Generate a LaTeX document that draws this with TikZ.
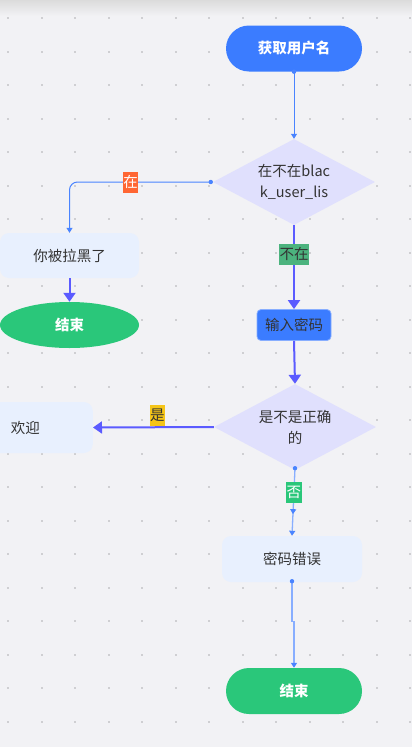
\documentclass[tikz,border=0pt]{standalone}
\usepackage{fontspec}
\setmainfont{Noto Sans CJK SC}
\usetikzlibrary{shapes.geometric,arrows.meta,decorations.markings}
\definecolor{bg}{HTML}{F2F2F5}
\definecolor{dotc}{HTML}{CFCFD2}
\definecolor{pblue}{HTML}{3B7CFF}
\definecolor{pgreen}{HTML}{2AC77A}
\definecolor{lgreen}{HTML}{4CB37E}
\definecolor{porange}{HTML}{FF6633}
\definecolor{pyellow}{HTML}{F5C518}
\definecolor{lightbox}{HTML}{E8F0FE}
\definecolor{dia}{HTML}{E0E0FD}
\definecolor{thick}{HTML}{5B5BFF}
\definecolor{thin}{HTML}{4A84FF}
\definecolor{pale}{HTML}{88AEFF}
\definecolor{txt}{HTML}{333333}
\tikzset{
  base/.style={font=\fontsize{14.5}{21}\selectfont, text=txt, inner sep=0pt, align=center},
  pill/.style={base, rounded corners=23pt, minimum width=136pt, minimum height=46pt, text=white, font=\fontsize{14.5}{21}\selectfont\bfseries},
  softbox/.style={base, fill=lightbox, rounded corners=9pt},
  decision/.style={base, diamond, shape aspect=1.88, fill=dia, minimum width=162pt, minimum height=86pt},
  lab/.style={font=\fontsize{14.5}{16}\selectfont, inner sep=0.5pt, minimum height=21pt, sharp corners},
  thinE/.style={draw=thin, line width=1pt, -{Triangle[length=5pt,width=6pt]}},
  paleE/.style={draw=pale, line width=1.3pt, -{Triangle[length=5pt,width=6pt,color=thin]}},
  thickE/.style={draw=thick, line width=2pt, -{Triangle[length=9pt,width=12pt]}},
  startdot/.style={fill=thin},
}
\begin{document}
\begin{tikzpicture}[x=1pt,y=-1pt]
\fill[bg] (0,0) rectangle (412,747);
\shade[top color=black!14, bottom color=bg] (0,0) rectangle (412,16);
\useasboundingbox (0,0) rectangle (412,747);
\foreach \i in {0,...,12}{
  \foreach \j in {0,...,21}{
    \fill[dotc] ({8.3+33.5*\i-1.1},{18.3+33.5*\j-1.1}) rectangle ++(2.2,2.2);
  }
}
% nodes
\node[pill, fill=pblue] (get) at (294,48.5) {获取用户名};
\node[decision] (d1) at (294,182) {在不在blac\\k\_user\_lis};
\node[softbox, minimum width=139pt, minimum height=45pt] (black) at (69.5,255.5) {你被拉黑了};
\node[base, ellipse, fill=pgreen, minimum width=139pt, minimum height=46pt, text=white, font=\fontsize{14.5}{21}\selectfont\bfseries] (end1) at (69.5,325) {结束};
\node[base, fill=pblue, draw=pale, line width=0.8pt, rounded corners=4pt, minimum width=74pt, minimum height=31pt] (pwd) at (294,325) {输入密码};
\node[decision] (d2) at (295,427) {是不是正确\\的};
\node[softbox, minimum width=110pt, minimum height=51pt, anchor=east, text width=92pt, align=left] (welcome) at (93,427.5) {\hspace*{19pt}欢迎};
\node[softbox, minimum width=140pt, minimum height=46pt] (err) at (292,559) {密码错误};
\node[pill, fill=pgreen] (end2) at (294,691) {结束};
% edges
\draw[thinE] (get.south) -- (d1.north);
\fill[startdot] (get.south) circle (2.2pt);
\draw[thinE, rounded corners=8pt] ([xshift=-2pt]d1.west) -| (black.north)
  node[lab, pos=0.284, fill=porange, text=white] {在};
\fill[startdot] ([xshift=-2pt]d1.west) circle (2.2pt);
\draw[thickE] (black.south) -- (end1.north);
\draw[thickE] (d1.south) -- (pwd.north)
  node[lab, pos=0.345, fill=lgreen, text=txt] {不在};
\draw[thickE] (pwd.south) -- (d2.north);
\draw[thickE] (d2.west) -- (welcome.east)
  node[lab, pos=0.467, anchor=south, fill=pyellow, text=txt] {是};
\draw[paleE, postaction={decorate}, decoration={markings, mark=at position 0.68 with {\arrow{Triangle[length=5pt,width=6pt,color=thin]}}}]
  ([yshift=2pt]d2.south) -- (err.north)
  node[lab, pos=0.36, fill=pgreen, text=white] {否};
\fill[startdot] ([yshift=2pt]d2.south) circle (2.2pt);
\draw[paleE] ([yshift=1pt]err.south) -- ++(0,40) -| (end2.north);
\fill[startdot] ([yshift=1pt]err.south) circle (2.2pt);
\end{tikzpicture}
\end{document}
